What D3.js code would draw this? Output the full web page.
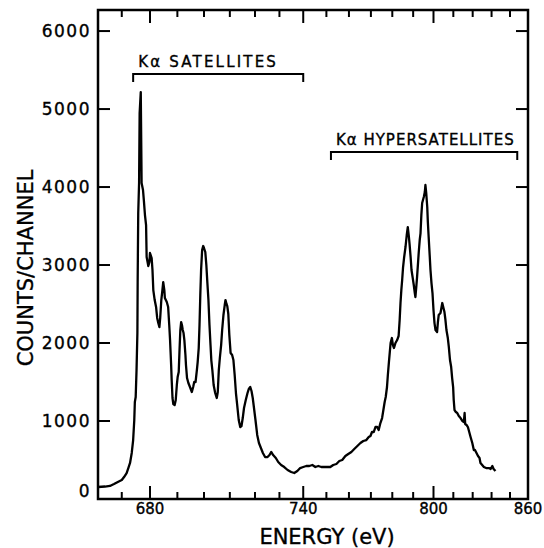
<!DOCTYPE html>
<html>
<head>
<meta charset="utf-8">
<script src="https://cdn.jsdelivr.net/npm/d3@7"></script>
<style>
  body { margin: 0; background: #fff; }
  svg { display: block; }
  text { font-family: "DejaVu Sans", sans-serif; fill: #000; stroke: #000; stroke-width: 0.35px; }
</style>
</head>
<body>
<svg id="chart" width="544" height="548"></svg>
<script>
// spectrum (energy in eV, counts per channel)
var energy = [661.8, 664.2, 665.9, 667.3, 668.8, 670.0, 670.8, 671.7, 672.3, 672.9, 673.5, 674.0, 674.4, 674.6, 674.9,
  675.2, 675.5, 675.6, 675.8, 676.1, 676.3, 676.7, 677.0, 677.5, 677.8, 678.2, 678.6, 678.8, 679.4, 679.8,
  680.0, 680.6, 680.9, 681.2, 681.7, 682.2, 682.6, 683.0, 683.4, 683.7, 684.1, 684.5, 684.8, 685.2, 685.4,
  686.1, 686.6, 687.0, 687.3, 687.7, 687.9, 688.2, 688.5, 689.0, 689.4, 689.8, 690.1, 690.5, 690.8, 691.1,
  691.4, 691.7, 692.0, 692.3, 692.6, 693.0, 693.2, 693.6, 694.1, 694.7, 695.4, 695.9, 696.3, 696.8, 697.3,
  697.6, 698.0, 698.3, 698.6, 698.9, 699.3, 699.7, 700.0, 700.5, 700.9, 701.3, 701.7, 702.1, 702.5, 702.8,
  703.2, 703.7, 704.3, 704.9, 705.3, 705.7, 706.1, 706.6, 707.0, 707.5, 708.0, 708.3, 708.7, 709.0, 709.4,
  709.8, 710.3, 710.9, 711.4, 711.9, 712.4, 712.9, 713.5, 714.1, 714.6, 715.1, 715.6, 716.3, 717.0, 717.5,
  718.1, 718.6, 719.1, 719.7, 720.2, 720.9, 721.6, 722.4, 723.2, 724.1, 725.1, 725.9, 726.6, 727.4, 728.5,
  729.5, 730.7, 732.0, 733.4, 734.9, 736.2, 737.5, 738.7, 740.0, 741.3, 742.6, 743.9, 745.2, 746.5, 747.8,
  749.1, 750.4, 751.7, 753.0, 754.4, 755.7, 757.0, 758.4, 759.7, 761.1, 762.4, 763.8, 765.2, 766.5, 767.9,
  769.0, 769.8, 770.5, 771.3, 772.1, 772.9, 773.6, 774.4, 775.2, 775.8, 776.4, 776.9, 777.5, 777.9, 778.4,
  778.9, 779.2, 779.8, 780.3, 780.8, 781.5, 782.3, 783.0, 783.5, 783.9, 784.3, 784.7, 785.1, 785.6, 786.3,
  786.9, 787.4, 787.9, 788.3, 788.8, 789.2, 789.8, 790.3, 790.8, 791.1, 791.6, 791.9, 792.4, 792.7, 793.2,
  793.6, 794.0, 794.4, 794.8, 795.2, 795.7, 796.0, 796.4, 796.9, 797.2, 797.6, 798.1, 798.5, 799.0, 799.5,
  800.0, 800.5, 801.0, 801.8, 802.2, 802.6, 803.5, 804.4, 805.0, 805.5, 806.0, 806.5, 807.2, 807.7, 808.3,
  808.9, 809.4, 809.9, 810.2, 810.6, 811.3, 812.0, 812.8, 813.7, 814.7, 815.4, 815.8, 816.1, 816.8, 817.5,
  818.2, 818.9, 819.8, 820.6, 821.2, 822.0, 822.8, 823.6, 824.1, 825.0, 825.9, 827.1, 828.6, 829.5, 830.4,
  831.1, 832.1];
var counts = [154, 160, 167, 192, 222, 244, 282, 333, 397, 462, 590, 756, 1013, 1244, 1308,
  1654, 2128, 2808, 3667, 4051, 4949, 5218, 4051, 3962, 3833, 3641, 3513, 3103, 2987, 3038,
  3154, 3090, 2936, 2679, 2551, 2462, 2321, 2256, 2205, 2321, 2551, 2679, 2782, 2679, 2577,
  2526, 2462, 2231, 2038, 1718, 1526, 1295, 1218, 1205, 1269, 1462, 1564, 1628, 1910, 2167,
  2269, 2231, 2167, 2128, 2038, 1846, 1718, 1551, 1487, 1436, 1372, 1436, 1500, 1500, 1654,
  1756, 1936, 2231, 2615, 2936, 3192, 3244, 3218, 3167, 3000, 2769, 2551, 2231, 1974, 1782,
  1654, 1462, 1359, 1295, 1372, 1654, 1808, 1974, 2167, 2359, 2487, 2551, 2500, 2474, 2372,
  2103, 1872, 1846, 1782, 1590, 1359, 1205, 1013, 923, 936, 1038, 1167, 1269, 1359, 1410,
  1436, 1385, 1295, 1141, 1013, 821, 718, 654, 590, 538, 538, 564, 603, 564, 526,
  474, 436, 410, 372, 346, 333, 359, 397, 410, 423, 423, 436, 410, 423, 410,
  410, 410, 410, 436, 449, 487, 500, 551, 577, 603, 641, 680, 718, 744, 756,
  795, 808, 859, 859, 923, 923, 885, 974, 1038, 1141, 1244, 1308, 1436, 1590, 1756,
  1910, 2000, 2064, 1974, 1936, 2000, 2038, 2090, 2295, 2513, 2679, 2808, 2962, 3090, 3231,
  3385, 3487, 3372, 3256, 3090, 2936, 2833, 2744, 2641, 2590, 2744, 2846, 3038, 3154, 3321,
  3410, 3641, 3795, 3833, 3872, 3936, 4026, 3923, 3744, 3551, 3359, 3128, 2936, 2769, 2641,
  2423, 2256, 2167, 2141, 2269, 2359, 2385, 2513, 2449, 2397, 2295, 2167, 2064, 1949, 1782,
  1692, 1551, 1436, 1269, 1141, 1115, 1103, 1064, 1038, 1000, 987, 1103, 962, 949, 923,
  859, 795, 718, 628, 628, 590, 551, 526, 462, 436, 410, 397, 397, 385, 423,
  385, 359];

var yTicks = [0, 1000, 2000, 3000, 4000, 5000, 6000];
var xMajor = [680, 740, 800];
var xMinor = [670, 690, 700, 710, 720, 730, 750, 760, 770, 780, 790, 810, 820, 830, 840];
var xLabelValues = [680, 740, 800, 850];
var xLabelTexts = ["680", "740", "800", "860"];

// bracketed regions (eV), bracket level (counts), label
var satRange = [674, 740];
var hyperRange = [752, 844];
var bracketLevels = [5450, 4450];
var bracketNames = ["K\u03b1 SATELLITES", "K\u03b1 HYPERSATELLITES"];

(function() {
  var plotL = 98, plotR = 528, plotT = 10, plotB = 499;
  var svg = d3.select("#chart");

  // the energy axis is linear in 1/E (wavelength), so a pow scale with exponent -1
  var x = d3.scalePow().exponent(-1).domain([661.8, 850]).range([plotL, plotR]);
  var y = d3.scaleLinear().domain([0, 6270]).range([plotB, plotT]);

  var pts = energy.map(function(e, i) { return [e, counts[i]]; });

  var line = d3.line()
    .x(function(d) { return x(d[0]); })
    .y(function(d) { return y(d[1]); });

  svg.append("path")
    .datum(pts)
    .attr("d", line)
    .attr("fill", "none")
    .attr("stroke", "#000")
    .attr("stroke-width", 2.3)
    .attr("stroke-linejoin", "round");

  // frame
  svg.append("rect")
    .attr("x", plotL).attr("y", plotT)
    .attr("width", plotR - plotL).attr("height", plotB - plotT)
    .attr("fill", "none").attr("stroke", "#000").attr("stroke-width", 2.5);

  // ticks, pointing inward on all four sides
  var g = svg.append("g").attr("stroke", "#000").attr("stroke-width", 2);
  function xTick(v, len) {
    g.append("line").attr("x1", x(v)).attr("x2", x(v)).attr("y1", plotB).attr("y2", plotB - len);
    g.append("line").attr("x1", x(v)).attr("x2", x(v)).attr("y1", plotT).attr("y2", plotT + len);
  }
  xMajor.forEach(function(v) { xTick(v, 13); });
  xMinor.forEach(function(v) { xTick(v, 7); });
  yTicks.filter(function(v) { return v > 0; }).forEach(function(v) {
    g.append("line").attr("x1", plotL).attr("x2", plotL + 12).attr("y1", y(v)).attr("y2", y(v));
    g.append("line").attr("x1", plotR).attr("x2", plotR - 12).attr("y1", y(v)).attr("y2", y(v));
  });

  // tick labels
  svg.selectAll(".ylab").data(yTicks).enter().append("text")
    .attr("class", "ylab")
    .attr("x", 91)
    .attr("y", function(d) { return d === 0 ? y(d) - 8 : y(d); })
    .attr("dy", "0.36em")
    .attr("text-anchor", "end")
    .style("font-size", "17px")
    .style("letter-spacing", "1.5px")
    .text(function(d) { return d; });

  svg.selectAll(".xlab").data(xLabelValues).enter().append("text")
    .attr("class", "xlab")
    .attr("x", function(d) { return x(d); })
    .attr("y", 514)
    .attr("text-anchor", "middle")
    .style("font-size", "15px")
    .text(function(d, i) { return xLabelTexts[i]; });

  // axis titles
  svg.append("text")
    .attr("x", 327).attr("y", 544)
    .attr("text-anchor", "middle")
    .style("font-size", "21px")
    .text("ENERGY (eV)");

  svg.append("text")
    .attr("transform", "translate(33,268) rotate(-90)")
    .attr("text-anchor", "middle")
    .style("font-size", "21px")
    .text("COUNTS/CHANNEL");

  // region brackets
  var spacing = ["2.2px", "1px"];
  [satRange, hyperRange].forEach(function(r, i) {
    var yb = y(bracketLevels[i]);
    svg.append("path")
      .attr("d", "M" + x(r[0]) + "," + (yb + 8) + "V" + yb + "H" + x(r[1]) + "V" + (yb + 8))
      .attr("fill", "none").attr("stroke", "#000").attr("stroke-width", 2);
    svg.append("text")
      .attr("x", x(r[0]) + 5).attr("y", yb - 7)
      .style("font-size", "15px")
      .style("letter-spacing", spacing[i])
      .text(bracketNames[i]);
  });
})();
</script>
</body>
</html>
